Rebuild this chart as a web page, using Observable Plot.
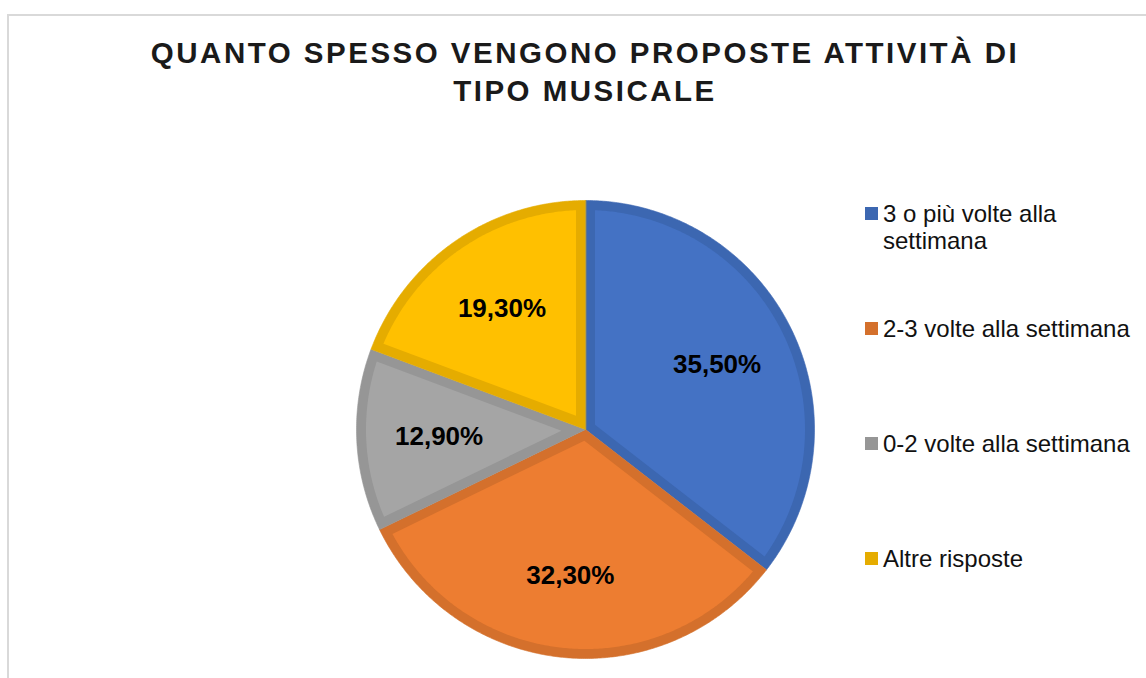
<!DOCTYPE html>
<html>
<head>
<meta charset="utf-8">
<script src="https://cdn.jsdelivr.net/npm/d3@7"></script>
<script src="https://cdn.jsdelivr.net/npm/@observablehq/plot@0.6"></script>
<style>
  html, body { margin: 0; padding: 0; background: #fff; }
  #wrap { position: relative; width: 1146px; height: 678px; overflow: hidden; font-family: "Liberation Sans", Arial, sans-serif; }
  #frame { position: absolute; left: 7px; top: 14px; width: 1200px; height: 720px; border: 2px solid #d9d9d9; box-sizing: border-box; }
  #chart { position: absolute; left: 0; top: 0; }
  #title { position: absolute; left: 85px; width: 1000px; top: 34px; text-align: center; font-size: 29.5px; line-height: 37.5px; font-weight: bold; letter-spacing: 2.5px; color: #1a1a1a; }
  #legend { position: absolute; left: 865px; top: 200px; }
  .item { height: 115px; display: flex; align-items: flex-start; }
  .sw { width: 13px; height: 13px; margin-top: 7px; margin-right: 5px; flex: none; }
  .lab { font-size: 24px; line-height: 27px; color: #111; max-width: 255px; }
</style>
</head>
<body>
<div id="wrap">
  <div id="frame"></div>
  <div id="chart"></div>
  <div id="title">QUANTO SPESSO VENGONO PROPOSTE ATTIVITÀ DI<br>TIPO MUSICALE</div>
  <div id="legend"></div>
</div>
<script>
// Data
const categories = ["3 o più volte alla settimana", "2-3 volte alla settimana", "0-2 volte alla settimana", "Altre risposte"];
const values = [35.5, 32.3, 12.9, 19.3];
// Styles
const fills = ["#4472C4", "#ED7D31", "#A5A5A5", "#FFC000"];
const borders = ["#3C67B1", "#D4702C", "#969696", "#E5AC00"];

const arcs = d3.pie().sort(null).value(d => d)(values);
const inset = 9.5 / 229; // border band in unit-radius terms
const step = Math.PI / 360;

function arcPoints(r, a0, a1) {
  const n = Math.max(2, Math.ceil((a1 - a0) / step));
  const pts = [];
  for (let k = 0; k <= n; k++) {
    const a = a0 + (a1 - a0) * k / n;
    pts.push({x: r * Math.sin(a), y: -r * Math.cos(a)});
  }
  return pts;
}
function outerWedge(a0, a1) {
  return [{x: 0, y: 0}, ...arcPoints(1, a0, a1)];
}
function innerWedge(a0, a1) {
  const h = (a1 - a0) / 2, m = (a0 + a1) / 2;
  const apex = inset / Math.sin(h);
  const rr = 1 - inset;
  const dl = Math.asin(inset / rr);
  return [{x: apex * Math.sin(m), y: -apex * Math.cos(m)}, ...arcPoints(rr, a0 + dl, a1 - dl)];
}

const marks = [];
arcs.forEach((a, i) => {
  marks.push(Plot.line(outerWedge(a.startAngle, a.endAngle), {x: "x", y: "y", curve: "linear-closed", fill: borders[i], stroke: borders[i], strokeWidth: 0.6}));
});
arcs.forEach((a, i) => {
  marks.push(Plot.line(innerWedge(a.startAngle, a.endAngle), {x: "x", y: "y", curve: "linear-closed", fill: fills[i], stroke: "none"}));
});
const labelR = 0.64;
const labels = arcs.map((a, i) => {
  const m = (a.startAngle + a.endAngle) / 2;
  return {x: labelR * Math.sin(m), y: -labelR * Math.cos(m), text: values[i].toFixed(2).replace(".", ",") + "%"};
});
marks.push(Plot.text(labels, {x: "x", y: "y", text: "text", fontSize: 26, fontWeight: "bold", fill: "#000"}));

const chart = Plot.plot({
  width: 1146,
  height: 678,
  margin: 0,
  x: {domain: [-1, 1], range: [356, 814], axis: null},
  y: {domain: [-1, 1], range: [200, 658], axis: null},
  style: {fontFamily: "'Liberation Sans', Arial, sans-serif", background: "transparent"},
  marks
});
document.getElementById("chart").appendChild(chart);

const legend = document.getElementById("legend");
categories.forEach((c, i) => {
  const it = document.createElement("div");
  it.className = "item";
  const sw = document.createElement("div");
  sw.className = "sw";
  sw.style.background = borders[i];
  const lb = document.createElement("div");
  lb.className = "lab";
  lb.textContent = c;
  it.appendChild(sw);
  it.appendChild(lb);
  legend.appendChild(it);
});
</script>
</body>
</html>
